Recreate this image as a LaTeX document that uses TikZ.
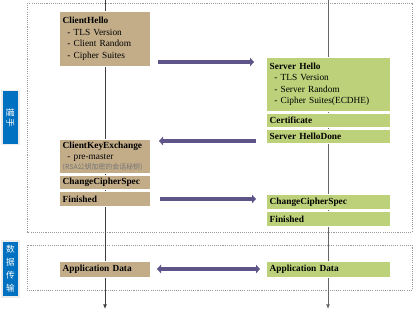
\documentclass[tikz,border=0pt]{standalone}
\usepackage{fontspec}
\setmainfont{Liberation Serif}
\newfontfamily\cjk{Noto Sans CJK SC}
\usetikzlibrary{arrows.meta}
\definecolor{clitan}{HTML}{C3AD89}
\definecolor{srvgreen}{HTML}{BCD17A}
\definecolor{msgpurple}{HTML}{5F5488}
\definecolor{tabblue}{HTML}{0070C0}
\newcommand{\subitm}[1]{\hspace*{3.5pt}- #1}

\begin{document}
\begin{tikzpicture}[x=0.75pt,y=-0.75pt,>=latex,
  box/.style={anchor=north west,inner xsep=2.5pt,inner ysep=0pt,align=left,
    draw=white,line width=0.6pt,font=\fontsize{7}{8.6}\selectfont},
  cli/.style={box,fill=clitan,text width=63.25pt},
  srv/.style={box,fill=srvgreen,text width=88pt},
  msg/.style={line width=3.6pt,draw=msgpurple,-{Triangle[length=3pt,width=6.4pt]}},
  frame/.style={draw=gray!80,dash pattern=on 0.8pt off 0.8pt,line width=0.4pt},
  tab/.style={fill=tabblue,draw=gray!15,line width=1pt,text=white,
    font=\cjk\fontsize{6.5}{9.8}\selectfont,inner sep=0pt}]
  \useasboundingbox (0,0) rectangle (416,311);
  % phases
  \draw[frame] (27,3) rectangle (412,232);
  \draw[frame] (27,245) rectangle (412,290);
  % lifelines
  \coordinate (cTop) at (105,0);
  \coordinate (cEnd) at (105,309);
  \coordinate (sTop) at (328,0);
  \coordinate (sEnd) at (328,309);
  \draw[line width=0.7pt,black!75,-{Latex[length=3.5pt,width=3pt]}] (cTop)--(cEnd);
  \draw[line width=0.7pt,black!60,-{Latex[length=3.5pt,width=3pt]}] (sTop)--(sEnd);
  % client side
  \node[cli,minimum height=41.25pt] (ch) at (59,11)
    {\textbf{ClientHello}\\\subitm{TLS Version}\\\subitm{Client Random}\\\subitm{Cipher Suites}};
  \node[cli,minimum height=25.5pt] (cke) at (59,139)
    {\textbf{ClientKeyExchange}\\\subitm{pre-master}\\[-1pt]{\cjk\fontsize{5.2}{6}\selectfont\color{black!55}(RSA公钥加密的会话秘钥)}};
  \node[cli,minimum height=10.5pt] (ccs) at (59,175) {\textbf{ChangeCipherSpec}};
  \node[cli,minimum height=11.25pt] (cfin) at (59,191) {\textbf{Finished}};
  \node[cli,minimum height=12pt] (cad) at (59,261) {\textbf{Application Data}};
  % server side
  \node[srv,minimum height=40.5pt] (sh) at (266,57)
    {\textbf{Server Hello}\\\subitm{TLS Version}\\\subitm{Server Random}\\\subitm{Cipher Suites(ECDHE)}};
  \node[srv,minimum height=10.5pt] (cert) at (266,113) {\textbf{Certificate}};
  \node[srv,minimum height=10.5pt] (shd) at (266,129) {\textbf{Server HelloDone}};
  \node[srv,minimum height=11.25pt] (sccs) at (266,194) {\textbf{ChangeCipherSpec}};
  \node[srv,minimum height=11.25pt] (sfin) at (266,211) {\textbf{Finished}};
  \node[srv,minimum height=12pt] (sad) at (266,261) {\textbf{Application Data}};
  % messages
  \coordinate (m1a) at (158,62);  \coordinate (m1b) at (254,62);
  \coordinate (m2a) at (256,141); \coordinate (m2b) at (159,141);
  \coordinate (m3a) at (160,199); \coordinate (m3b) at (256,199);
  \coordinate (m4a) at (157,269); \coordinate (m4b) at (260,269);
  \draw[msg] (m1a)--(m1b);
  \draw[msg] (m2a)--(m2b);
  \draw[msg] (m3a)--(m3b);
  \draw[msg,{Triangle[length=3pt,width=6.4pt]}-{Triangle[length=3pt,width=6.4pt]}] (m4a)--(m4b);
  % phase tabs
  \node[tab,rotate=-90,minimum width=40.5pt,minimum height=12.75pt] (hs) at (10.5,117.5) {握\,手};
  \node[tab,align=center,minimum width=12.75pt,minimum height=42pt] (dt) at (10.5,269) {数\\据\\传\\输};
\end{tikzpicture}
\end{document}
